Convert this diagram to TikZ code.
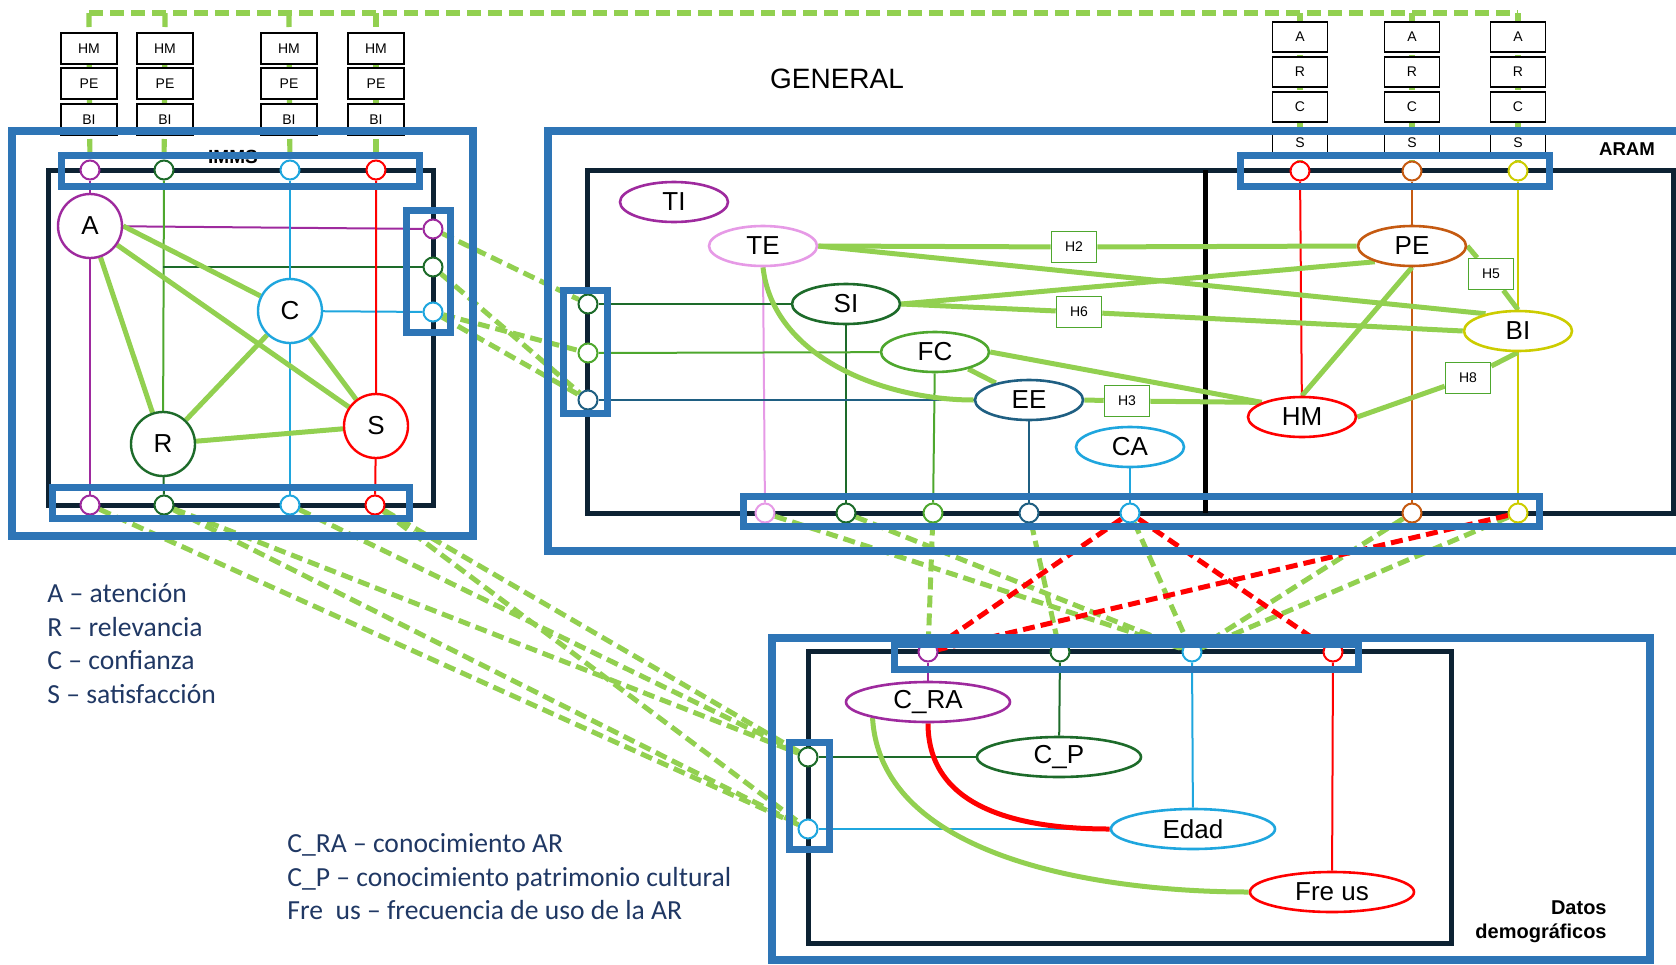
\documentclass[tikz,border=0pt]{standalone}
\usepackage{fontspec}
\setmainfont{Liberation Sans}
\newfontfamily\legfont{Carlito}
\usetikzlibrary{shapes.geometric}
\pgfdeclarelayer{back}
\pgfdeclarelayer{front}
\pgfsetlayers{back,main,front}
\definecolor{fblue}{HTML}{2E75B6}
\definecolor{fdark}{HTML}{0D2233}
\definecolor{lgreen}{HTML}{92D050}
\definecolor{mgreen}{HTML}{4EA72E}
\definecolor{dgreen}{HTML}{1D6B2A}
\definecolor{pur}{HTML}{9E2A9E}
\definecolor{cyn}{HTML}{1FA6DE}
\definecolor{pnk}{HTML}{E69AE6}
\definecolor{teb}{HTML}{1F5F82}
\definecolor{brn}{HTML}{C55A11}
\definecolor{ylw}{HTML}{CCCC00}
\definecolor{navy}{HTML}{203864}
\tikzset{
  bigc/.style={circle, draw=#1, line width=1.2pt, fill=white, minimum size=32pt, inner sep=0pt, font=\fontsize{13}{13}\selectfont},
  ell/.style={ellipse, draw=#1, line width=1.3pt, fill=white, minimum width=54pt, minimum height=20pt, inner sep=0pt, font=\fontsize{13}{13}\selectfont},
  dell/.style={ell=#1, minimum width=82pt},
  port/.style={circle, draw=#1, line width=1pt, fill=white, minimum size=9.5pt, inner sep=0pt},
  sbox/.style={draw=black, line width=0.9pt, fill=white, minimum width=28pt, minimum height=15.5pt, inner sep=0pt, font=\fontsize{7}{7}\selectfont},
  hyp/.style={draw=mgreen, line width=0.8pt, fill=white, minimum width=22.5pt, minimum height=15.5pt, inner sep=0pt, font=\fontsize{7}{7}\selectfont},
  wire/.style={draw=#1, line width=1pt},
  link/.style={draw=lgreen, line width=2.5pt},
  dlink/.style={draw=#1, line width=2.5pt, dash pattern=on 6pt off 3pt},
  dlink/.default=lgreen,
  tline/.style={draw=lgreen, line width=2.6pt, dash pattern=on 7pt off 3.5pt},
  kframe/.style={draw=fdark, line width=2.5pt},
  bframe/.style={draw=fblue, line width=4.3pt},
  pframe/.style={draw=fblue, line width=3.5pt},
  legend/.style={anchor=base west, inner sep=0pt, text=navy, font=\legfont\fontsize{13.8}{13.8}\selectfont}
}

\begin{document}
\begin{tikzpicture}[x=0.5pt, y=-0.5pt]
\useasboundingbox (0,0) rectangle (1676,964);

% titles
\node[font=\fontsize{14}{14}\selectfont] (tgen) at (837,79) {GENERAL};
\node[font=\fontsize{9.5}{9.5}\selectfont\bfseries] (timms) at (233,157) {IMMS};
\node[font=\fontsize{9.3}{9.3}\selectfont\bfseries] (taram) at (1627,149) {ARAM};
\node[anchor=east, align=right, inner sep=0pt, font=\fontsize{10}{12}\selectfont\bfseries] (tdatos) at (1607,922) {Datos\\demográficos};

% IMMS
\node[bigc=pur] (nA) at (90,226) {A};
\node[bigc=dgreen] (nR) at (163,444) {R};
\node[bigc=cyn] (nC) at (290,311) {C};
\node[bigc=red] (nS) at (376,426) {S};
\node[port=pur] (imt1) at (90,170) {};
\node[port=dgreen] (imt2) at (164,170) {};
\node[port=cyn] (imt3) at (290,170) {};
\node[port=red] (imt4) at (376,170) {};
\node[port=pur] (imr1) at (433,229) {};
\node[port=dgreen] (imr2) at (433,267) {};
\node[port=cyn] (imr3) at (433,312) {};
\node[port=pur] (imb1) at (90,505) {};
\node[port=dgreen] (imb2) at (164,505) {};
\node[port=cyn] (imb3) at (290,505) {};
\node[port=red] (imb4) at (375,505) {};
\foreach \x/\i in {89/1,165/2,289/3,376/4}{
  \node[sbox] (bxhm\i) at (\x,48.5) {HM};
  \node[sbox] (bxpe\i) at (\x,83.5) {PE};
  \node[sbox] (bxbi\i) at (\x,119.5) {BI};
}

% ARAM
\node[ell=pur] (nTI) at (674,202) {TI};
\node[ell=pnk] (nTE) at (763,246) {TE};
\node[ell=dgreen] (nSI) at (846,304) {SI};
\node[ell=mgreen] (nFC) at (935,352) {FC};
\node[ell=teb] (nEE) at (1029,400) {EE};
\node[ell=cyn] (nCA) at (1130,447) {CA};
\node[ell=brn] (nPE) at (1412,246) {PE};
\node[ell=ylw] (nBI) at (1518,331) {BI};
\node[ell=red] (nHM) at (1302,417) {HM};
\node[hyp] (h2) at (1074,247) {H2};
\node[hyp] (h6) at (1079,312) {H6};
\node[hyp] (h3) at (1127,401) {H3};
\node[hyp] (h5) at (1491,274) {H5};
\node[hyp] (h8) at (1468,378) {H8};
\node[port=dgreen] (arl1) at (588,304) {};
\node[port=mgreen] (arl2) at (588,353) {};
\node[port=teb] (arl3) at (588,400) {};
\node[port=red] (art1) at (1300,171) {};
\node[port=brn] (art2) at (1412,171) {};
\node[port=ylw] (art3) at (1518,171) {};
\node[port=pnk] (arb1) at (765,513) {};
\node[port=dgreen] (arb2) at (846,513) {};
\node[port=mgreen] (arb3) at (933,513) {};
\node[port=teb] (arb4) at (1029,513) {};
\node[port=cyn] (arb5) at (1130,513) {};
\node[port=brn] (arb6) at (1412,513) {};
\node[port=ylw] (arb7) at (1518,513) {};
\foreach \x/\i in {1300/1,1412/2,1518/3}{
  \node[sbox, minimum width=27.5pt, minimum height=15pt] (bxa\i) at (\x,37) {A};
  \node[sbox, minimum width=27.5pt, minimum height=15pt] (bxr\i) at (\x,72) {R};
  \node[sbox, minimum width=27.5pt, minimum height=15pt] (bxc\i) at (\x,107) {C};
  \node[sbox, minimum width=27.5pt, minimum height=15pt] (bxs\i) at (\x,143) {S};
}

% Datos demograficos
\node[dell=pur] (nCRA) at (928,702) {C\_RA};
\node[dell=dgreen] (nCP) at (1059,757) {C\_P};
\node[dell=cyn] (nEdad) at (1193,829) {Edad};
\node[dell=red] (nFre) at (1332,892) {Fre us};
\node[port=pur] (dt1) at (928,652) {};
\node[port=dgreen] (dt2) at (1060,652) {};
\node[port=cyn] (dt3) at (1192,652) {};
\node[port=red] (dt4) at (1333,652) {};
\node[port=dgreen] (dl1) at (808,757) {};
\node[port=cyn] (dl2) at (808,829) {};

% legends
\node[legend] (lga) at (47,602) {A – atención};
\node[legend] (lgr) at (47,636) {R – relevancia};
\node[legend] (lgc) at (47,669) {C – confianza};
\node[legend] (lgs) at (47,703) {S – satisfacción};
\node[legend] (lgcra) at (287,852) {C\_RA – conocimiento AR};
\node[legend] (lgcp) at (287,886) {C\_P – conocimiento patrimonio cultural};
\node[legend] (lgfre) at (287,919) {Fre\ \ us – frecuencia de uso de la AR};

\begin{pgfonlayer}{back}
\draw[kframe] (48,170) rectangle (433,505);
\draw[kframe] (587,170) rectangle (1673,513);
\draw[kframe, draw=black] (1205,170) -- (1205,513);
\draw[kframe] (808,651) rectangle (1451,943);

% top links
\coordinate (tp1) at (89,13);
\coordinate (tp2) at (165,13);
\coordinate (tp3) at (289,13);
\coordinate (tp4) at (376,13);
\coordinate (tp5) at (1300,13);
\coordinate (tp6) at (1412,13);
\coordinate (tp7) at (1518,13);
\draw[tline] (tp1) -- (tp7);
\foreach \t/\p in {tp1/imt1,tp2/imt2,tp3/imt3,tp4/imt4,tp5/art1,tp6/art2,tp7/art3}
  \draw[tline] (\t) -- (\p);

% IMMS wires
\draw[wire=pur] (imt1) -- (nA) -- (imb1);
\draw[wire=pur] (nA) -- (imr1);
\draw[wire=mgreen] (imt2) -- (nR);
\draw[wire=dgreen] (nR) -- (imb2);
\draw[wire=dgreen] (imr2) -- (imr2 -| nR);
\draw[wire=cyn] (imt3) -- (nC) -- (imb3);
\draw[wire=cyn] (nC) -- (imr3);
\draw[wire=red] (imt4) -- (nS) -- (imb4);
\draw[link] (nA.east) -- (nC);
\draw[link] (nA) -- (nR);
\draw[link] (nA) -- (nS);
\draw[link] (nC) -- (nR);
\draw[link] (nC) -- (nS);
\draw[link] (nR) -- (nS);

% ARAM wires
\draw[wire=pnk] (nTE.south) -- (arb1);
\draw[wire=dgreen] (nSI) -- (arb2);
\draw[wire=mgreen] (nFC) -- (arb3);
\draw[wire=teb] (nEE) -- (arb4);
\draw[wire=cyn] (nCA) -- (arb5);
\draw[wire=brn] (art2) -- (nPE) -- (arb6);
\draw[wire=ylw] (art3) -- (nBI) -- (arb7);
\draw[wire=red] (art1) -- (nHM);
\draw[wire=dgreen] (arl1) -- (nSI);
\draw[wire=mgreen] (arl2) -- (nFC);
\draw[wire=teb] (arl3) -- (nEE);
\draw[link] (nTE.east) -- (h2) -- (nPE.west);
\draw[link] (nTE.east) -- (nBI.152);
\draw[link] (nSI.east) -- (nPE.203);
\draw[link] (nSI.east) -- (h6) -- (nBI.west);
\draw[link] (nFC.east) -- (nHM.160);
\draw[link] (nEE.east) -- (h3) -- (nHM.160);
\draw[link] (nTE.south) .. controls +(10,90) and +(-90,0) .. (nEE.west);
\draw[link] (nFC) -- (nEE);
\draw[link] (nHM.north) -- (nPE.south);
\draw[link] (nPE.east) -- (h5) -- (nBI.north);
\draw[link] (nHM.east) -- (h8) -- (nBI.south);

% Datos wires
\draw[wire=pur] (dt1) -- (nCRA);
\draw[wire=dgreen] (dt2) -- (nCP);
\draw[wire=cyn] (dt3) -- (nEdad);
\draw[wire=red] (dt4) -- (nFre);
\draw[wire=dgreen] (dl1) -- (nCP);
\draw[wire=cyn] (dl2) -- (nEdad);
\draw[red, line width=2.5pt] (nCRA.south) .. controls +(0,90) and +(-80,0) .. (nEdad.west);
\draw[link] (nCRA.196) .. controls +(8,140) and +(-150,0) .. (nFre.west);

% dashed links
\draw[dlink] (imr1) -- (arl1);
\draw[dlink] (imr2) -- (arl3);
\draw[dlink] (imr3) -- (arl2);
\draw[dlink] (imr3) -- (arl3);
\draw[dlink] (imb1) -- (dl2);
\draw[dlink] (imb2) -- (dl1);
\draw[dlink] (imb2) -- (dl2);
\draw[dlink] (imb3) -- (dl1);
\draw[dlink] (imb4) -- (dl1);
\draw[dlink] (imb4) -- (dl2);
\draw[dlink] (arb1) -- (dt3);
\draw[dlink] (arb2) -- (dt3);
\draw[dlink] (arb3) -- (dt1);
\draw[dlink] (arb4) -- (dt2);
\draw[dlink] (arb5) -- (dt3);
\draw[dlink] (arb6) -- (dt3);
\draw[dlink] (arb7) -- (dt3);
\draw[dlink=red] (arb5) -- (dt1);
\draw[dlink=red] (arb5) -- (dt4);
\draw[dlink=red] (arb7) -- (dt1);
\end{pgfonlayer}

\begin{pgfonlayer}{front}
\draw[bframe] (12,131) rectangle (473,536);
\draw[bframe] (548,131) rectangle (1700,551);
\draw[bframe] (772,638) rectangle (1650,960);
\draw[pframe] (61.5,155.5) rectangle (419.5,186.5);
\draw[pframe] (406.5,210.5) rectangle (450.5,332.5);
\draw[pframe] (52.5,487.5) rectangle (409.5,518.5);
\draw[pframe] (563.5,290.5) rectangle (607.5,413.5);
\draw[pframe] (1240.5,155.5) rectangle (1549.5,186.5);
\draw[pframe] (743.5,496.5) rectangle (1539.5,526.5);
\draw[pframe] (894.5,644.5) rectangle (1358.5,669.5);
\draw[pframe] (789.5,742.5) rectangle (829.5,849.5);
\end{pgfonlayer}
\end{tikzpicture}
\end{document}
